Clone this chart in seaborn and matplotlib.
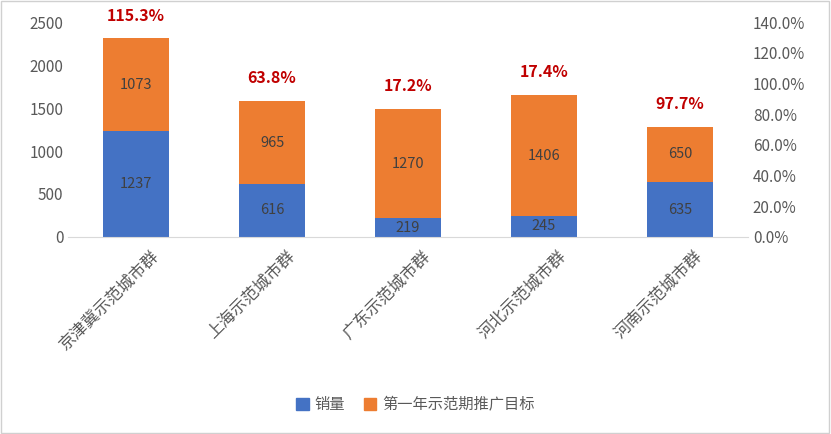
import matplotlib
matplotlib.use("Agg")
import matplotlib.pyplot as plt
import matplotlib.transforms as mtrans
import seaborn as sns
import pandas as pd
from matplotlib.ticker import FuncFormatter

categories = ["京津冀示范城市群", "上海示范城市群", "广东示范城市群", "河北示范城市群", "河南示范城市群"]
sales = [1237, 616, 219, 245, 635]
targets = [1073, 965, 1270, 1406, 650]
rates = ["115.3%", "63.8%", "17.2%", "17.4%", "97.7%"]

plt.rcParams["font.family"] = "Noto Sans CJK SC"
blue, orange = "#4472C4", "#ED7D31"
df = pd.DataFrame({"cat": categories, "sales": sales, "target": targets})
df["total"] = df["sales"] + df["target"]

fig = plt.figure(figsize=(8.31, 4.34), dpi=100)
fig.patches.append(plt.Rectangle((0.001, 0.002), 0.997, 0.996, transform=fig.transFigure,
                                 fill=False, edgecolor="#d0d0d0", lw=1))
ax = fig.add_axes([0.082, 0.454, 0.818, 0.495])
sns.barplot(data=df, x="cat", y="total", color=orange, width=0.49, ax=ax, saturation=1)
sns.barplot(data=df, x="cat", y="sales", color=blue, width=0.49, ax=ax, saturation=1)
for i in range(len(categories)):
    ax.text(i, sales[i] / 2, str(sales[i]), ha="center", va="center", fontsize=10.5, color="#404040")
    ax.text(i, sales[i] + targets[i] / 2, str(targets[i]), ha="center", va="center", fontsize=10.5, color="#404040")
    ax.text(i, sales[i] + targets[i] + 170, rates[i], ha="center", va="bottom", fontsize=11.5,
            color="#C00000", fontweight="bold")
ax.set_ylim(0, 2500)
ax.set_yticks(range(0, 2501, 500))
ax.set_xlim(-0.5, 4.5)
ax.set_xlabel(""); ax.set_ylabel("")
for s in ax.spines.values():
    s.set_visible(False)
ax.spines["bottom"].set_visible(True)
ax.spines["bottom"].set_color("#d9d9d9")
ax.tick_params(axis="both", length=0, labelsize=11, colors="#595959")
ax.tick_params(axis="x", pad=8)
ax.set_xticks(range(5))
ax.set_xticklabels(categories, rotation=45, ha="right", rotation_mode="anchor", fontsize=12)
off = mtrans.ScaledTranslation(0.14, 0, fig.dpi_scale_trans)
for lab in ax.get_xticklabels():
    lab.set_transform(lab.get_transform() + off)

ax2 = ax.twinx()
ax2.set_ylim(0, 1.4)
ax2.set_yticks([i * 0.2 for i in range(8)])
ax2.yaxis.set_major_formatter(FuncFormatter(lambda v, p: f"{v*100:.1f}%"))
for s in ax2.spines.values():
    s.set_visible(False)
ax2.tick_params(length=0, labelsize=11, colors="#595959")

h = [plt.Rectangle((0, 0), 1, 1, color=blue), plt.Rectangle((0, 0), 1, 1, color=orange)]
fig.legend(h, ["销量", "第一年示范期推广目标"], loc="center", bbox_to_anchor=(0.5, 0.067),
           ncol=2, frameon=False, fontsize=11, handlelength=0.8, handleheight=0.8,
           columnspacing=1.2, handletextpad=0.4, labelcolor="#595959")
fig.savefig("out.png", dpi=100)
